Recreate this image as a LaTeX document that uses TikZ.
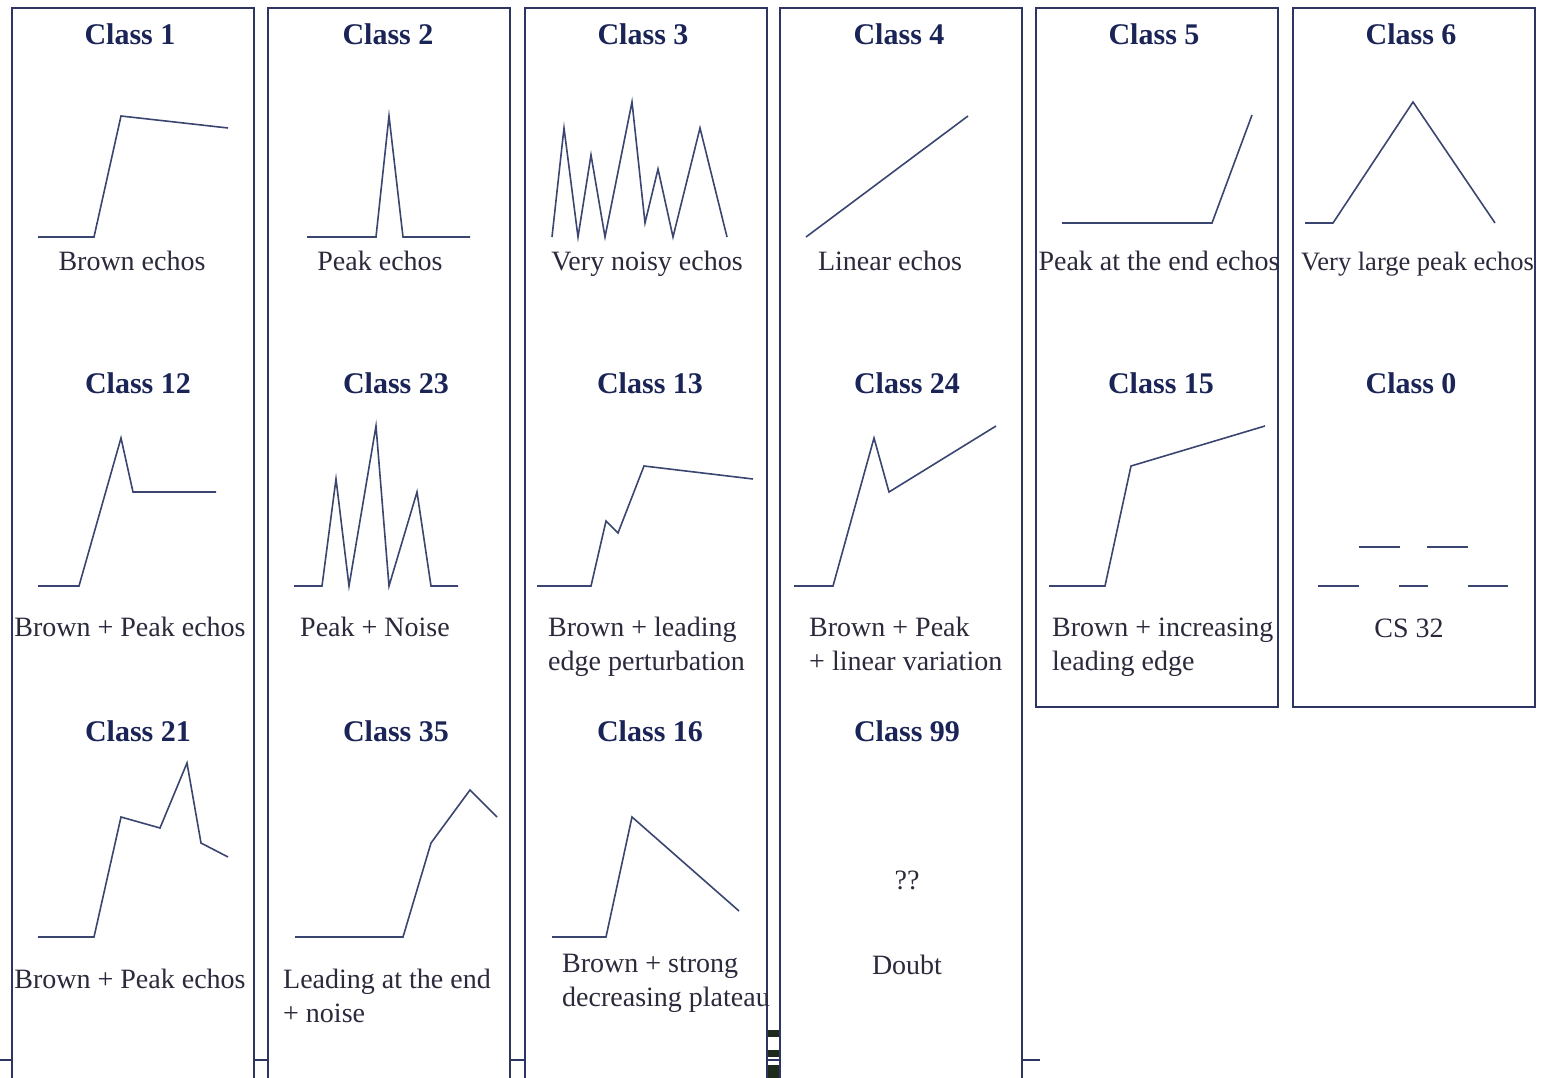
\documentclass[tikz,border=0pt]{standalone}
\usepackage{fontspec}
\setmainfont{Liberation Serif}
\definecolor{boxc}{HTML}{2D3663}
\definecolor{titlec}{HTML}{1A2456}
\definecolor{labelc}{HTML}{2A2A3C}
\definecolor{wavec}{HTML}{3B4670}
\definecolor{smudge}{HTML}{1E2A1C}
\tikzset{
  panel/.style={draw=boxc, line width=1.8pt, fill=white},
  wave/.style={draw=wavec, line width=1.6pt, line join=miter},
  ttl/.style={font=\fontsize{30}{30}\selectfont\bfseries, text=titlec, inner sep=0pt, anchor=base},
  lbl/.style={font=\fontsize{28}{34}\selectfont, text=labelc, inner sep=0pt, anchor=base},
  lblw/.style={font=\fontsize{28}{34}\selectfont, text=labelc, inner sep=0pt, anchor=base west, align=left},
}
\begin{document}
\begin{tikzpicture}[x=1pt,y=-1pt]
\useasboundingbox (0,0) rectangle (1542,1078);
\clip (0,0) rectangle (1542,1078);
\fill[white] (0,0) rectangle (1542,1078);
% background rule behind the panels
\draw[boxc, line width=1.5pt] (0,1060) -- (1040,1060);
% panels
\filldraw[panel] (12,8) rectangle (254,1095);
\filldraw[panel] (268,8) rectangle (510,1095);
\filldraw[panel] (525,8) rectangle (767,1095);
\filldraw[panel] (780,8) rectangle (1022,1095);
\filldraw[panel] (1036,8) rectangle (1278,707);
\filldraw[panel] (1293,8) rectangle (1535,707);
% smudge between columns 3 and 4
\fill[smudge] (768,1030) rectangle (779,1037);
\fill[smudge] (768,1050) rectangle (779,1057);
\fill[smudge] (768,1065) rectangle (779,1078);

% ---------- Row 1 ----------
\node[ttl] (t1) at (130,45) {Class 1};
\node[ttl] (t2) at (388,45) {Class 2};
\node[ttl] (t3) at (643,45) {Class 3};
\node[ttl] (t4) at (899,45) {Class 4};
\node[ttl] (t5) at (1154,45) {Class 5};
\node[ttl] (t6) at (1411,45) {Class 6};

\draw[wave] (38,237) -- (94,237) -- (121,116) -- (228,128);
\draw[wave] (307,237) -- (376,237) -- (389,116) -- (403,237) -- (470,237);
\draw[wave] (552,237) -- (564,128) -- (578,237) -- (591,155) -- (605,237) -- (632,102) -- (645,223) -- (658,169) -- (673,237) -- (700,128) -- (727,237);
\draw[wave] (806,237) -- (968,116);
\draw[wave] (1062,223) -- (1212,223) -- (1252,115);
\draw[wave] (1305,223) -- (1333,223) -- (1413,102) -- (1495,223);

\node[lbl] (l1) at (132,270) {Brown echos};
\node[lbl] (l2) at (380,270) {Peak echos};
\node[lbl] (l3) at (647,270) {Very noisy echos};
\node[lbl] (l4) at (890,270) {Linear echos};
\node[lbl] (l5) at (1159,270) {Peak at the end echos};
\node[lblw, font=\fontsize{26.5}{34}\selectfont] (l6) at (1301,270) {Very large peak echos};
\draw[boxc, line width=1.8pt] (1535,8) -- (1535,707);

% ---------- Row 2 ----------
\node[ttl] (t12) at (138,393) {Class 12};
\node[ttl] (t23) at (396,393) {Class 23};
\node[ttl] (t13) at (650,393) {Class 13};
\node[ttl] (t24) at (907,393) {Class 24};
\node[ttl] (t15) at (1161,393) {Class 15};
\node[ttl] (t0) at (1411,393) {Class 0};

\draw[wave] (38,586) -- (79,586) -- (121,438) -- (133,492) -- (216,492);
\draw[wave] (294,586) -- (322,586) -- (336,479) -- (349,586) -- (376,426) -- (389,586) -- (417,492) -- (431,586) -- (458,586);
\draw[wave] (537,586) -- (591,586) -- (606,521) -- (618,533) -- (644,466) -- (753,479);
\draw[wave] (794,586) -- (833,586) -- (874,438) -- (889,492) -- (996,426);
\draw[wave] (1049,586) -- (1105,586) -- (1131,466) -- (1265,426);
\draw[wave] (1359,547) -- (1400,547);
\draw[wave] (1427,547) -- (1468,547);
\draw[wave] (1318,586) -- (1359,586);
\draw[wave] (1399,586) -- (1428,586);
\draw[wave] (1468,586) -- (1508,586);

\node[lbl] (l12) at (130,636) {Brown + Peak echos};
\node[lbl] (l23) at (375,636) {Peak + Noise};
\node[lblw] (l13) at (548,670) {Brown + leading\\edge perturbation};
\node[lblw] (l24) at (809,670) {Brown + Peak\\+ linear variation};
\node[lblw] (l15) at (1052,670) {Brown + increasing\\leading edge};
\node[lbl] (l0) at (1409,637) {CS 32};

% ---------- Row 3 ----------
\node[ttl] (t21) at (138,741) {Class 21};
\node[ttl] (t35) at (396,741) {Class 35};
\node[ttl] (t16) at (650,741) {Class 16};
\node[ttl] (t99) at (907,741) {Class 99};

\draw[wave] (38,937) -- (94,937) -- (121,817) -- (160,828) -- (187,763) -- (201,843) -- (228,857);
\draw[wave] (295,937) -- (403,937) -- (431,843) -- (470,790) -- (497,817);
\draw[wave] (552,937) -- (606,937) -- (632,817) -- (739,911);
\node[lbl] (q99) at (907,889) {??};

\node[lbl] (l21) at (130,988) {Brown + Peak echos};
\node[lblw] (l35) at (283,1022) {Leading at the end\\+ noise};
\node[lblw] (l16) at (562,1006) {Brown + strong\\decreasing plateau};
\node[lbl] (l99) at (907,974) {Doubt};
\end{tikzpicture}
\end{document}
